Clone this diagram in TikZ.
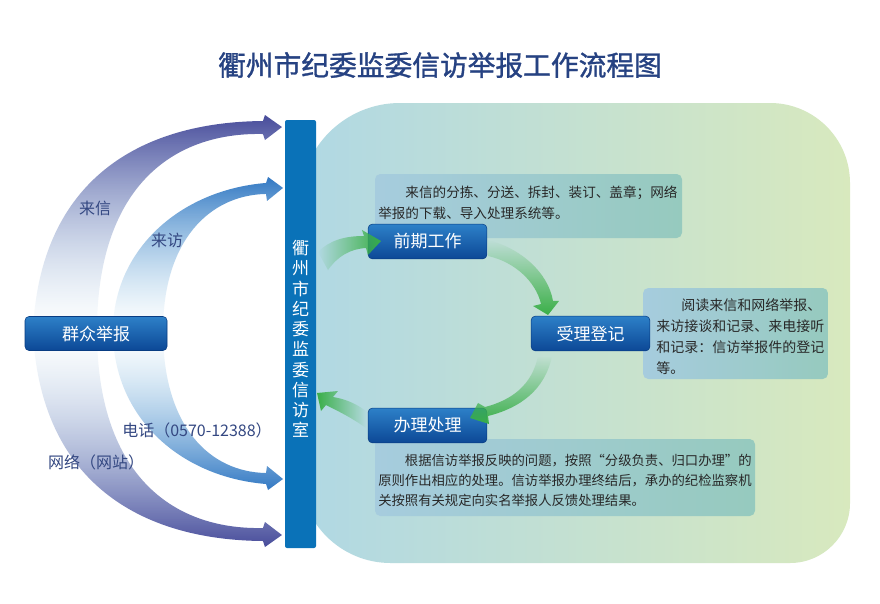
\documentclass[tikz,border=0pt]{standalone}
\usepackage{fontspec}
\setmainfont{Noto Sans CJK SC}
\newfontfamily\titlefont{Noto Sans CJK SC}[FakeBold=1.2]
\usepackage{tikz}
\usetikzlibrary{fadings}

\definecolor{bgleft}{RGB}{176,216,228}
\definecolor{bgright}{RGB}{216,233,190}
\definecolor{noteleft}{RGB}{166,204,222}
\definecolor{noteright}{RGB}{150,202,190}
\definecolor{steptop}{RGB}{45,128,200}
\definecolor{stepbot}{RGB}{12,72,150}
\definecolor{stepedge}{RGB}{8,60,130}
\definecolor{barblue}{RGB}{10,114,184}
\definecolor{titleblue}{RGB}{38,66,130}
\definecolor{labelblue}{RGB}{52,72,130}
\definecolor{outerblue}{RGB}{72,76,155}
\definecolor{outerpale}{RGB}{175,210,232}
\definecolor{innerblue}{RGB}{50,120,195}
\definecolor{innerpale}{RGB}{165,210,235}
\definecolor{cyclegreen}{RGB}{58,175,72}
\definecolor{notetextc}{RGB}{40,40,40}

\begin{document}
\begin{tikzpicture}[x=0.75pt,y=-0.75pt,
    stepbox/.style={draw=stepedge, rounded corners=3pt, top color=steptop, bottom color=stepbot,
      text=white, font=\fontsize{12.75}{15}\selectfont, minimum width=89pt, minimum height=26pt, inner sep=0pt},
    notebg/.style={left color=noteleft, right color=noteright, rounded corners=4pt},
    notetext/.style={anchor=west, align=left, inner sep=0pt, text=notetextc},
    sidelabel/.style={text=labelblue, font=\fontsize{12}{14}\selectfont, inner sep=0pt},
    cyclearrow/.style={fill=cyclegreen}]
  \useasboundingbox (0,0) rectangle (880,603);
  \fill[white] (0,0) rectangle (880,603);

  % background panel
  \shade[left color=bgleft, right color=bgright]
    (575,103) [rounded corners=60pt] -- (850,103) -- (850,333)
    [rounded corners=45pt] -- (850,563) -- (575,563)
    [rounded corners=68pt] -- (300,563) -- (300,333)
    [rounded corners=75pt] -- (300,103) -- cycle;

  \node[text=titleblue, font=\titlefont\fontsize{20.8}{24}\selectfont] (title) at (440,65) {衢州市纪委监委信访举报工作流程图};

  % notes
  \shade[notebg] (375,174) rectangle (682,238);
  \node[notetext, font=\fontsize{10.2}{15.75}\selectfont] (note1) at (378,203)
    {\hspace*{2em}来信的分拣、分送、拆封、装订、盖章；网络\\举报的下载、导入处理系统等。};
  \shade[notebg] (643,288) rectangle (828,379);
  \node[notetext, font=\fontsize{10.5}{15.75}\selectfont] (note2) at (656,337)
    {\hspace*{1.8em}阅读来信和网络举报、\\来访接谈和记录、来电接听\\和记录：信访举报件的登记\\等。};
  \shade[notebg] (375,439) rectangle (755,516);
  \node[notetext, font=\fontsize{10}{15}\selectfont] (note3) at (378,480)
    {\hspace*{2em}根据信访举报反映的问题，按照“分级负责、归口办理”的\\原则作出相应的处理。信访举报办理终结后，承办的纪检监察机\\关按照有关规定向实名举报人反馈处理结果。};

  % steps
  \node[stepbox] (prep) at (427.5,241.5) {前期工作};
  \node[stepbox] (accept) at (590.5,333.5) {受理登记};
  \node[stepbox] (handle) at (427.5,425.5) {办理处理};

  % cycle arrows
  \fill[cyclearrow, path fading=west] (318,252) .. controls (330,240) and (345,236) .. (364,236)
    -- (362,230) -- (381,241) -- (368,255) -- (366,248) .. controls (350,249) and (338,256) .. (328,270) -- cycle;
  \fill[cyclearrow, path fading=north] (488,240) .. controls (520,248) and (548,272) .. (553,301)
    -- (559,301) -- (548,315) -- (533,306) -- (541,304) .. controls (536,282) and (515,262) .. (488,256) -- cycle;
  \fill[cyclearrow, path fading=north] (552,356) .. controls (545,390) and (520,408) .. (488,416)
    -- (489,424) -- (470,418) -- (478,403) -- (485,407) .. controls (512,400) and (532,385) .. (538,356) -- cycle;
  \fill[cyclearrow, path fading=east] (366,411) .. controls (355,403) and (345,399) .. (333,397)
    -- (338,391) -- (317,393) -- (321,411) -- (326,405) .. controls (340,412) and (352,418) .. (366,428) -- cycle;

  % office bar
  \node[fill=barblue, rounded corners=1.5pt, minimum width=23.25pt, minimum height=321pt, inner sep=0pt] (office) at (300.5,334) {};
  \node[text=white, align=center, font=\fontsize{12.75}{15.2}\selectfont, inner sep=0pt] (officename) at (300.5,339)
    {衢\\州\\市\\纪\\委\\监\\委\\信\\访\\室};

  % channels
  \shade[top color=outerblue, bottom color=outerpale, path fading=south]
    (33,331) .. controls (40,180) and (140,122) .. (263,121) -- (265,115) -- (282,127)
    -- (265,140) -- (263,134) .. controls (170,132) and (97,190) .. (97,331) -- cycle;
  \shade[top color=innerblue, bottom color=innerpale, path fading=south]
    (113,331) .. controls (113,250) and (180,190) .. (266,183) -- (268,177) -- (283,188)
    -- (267,201) -- (266,194) .. controls (210,195) and (163,240) .. (163,331) -- cycle;
  \shade[top color=innerpale, bottom color=innerblue, path fading=north]
    (113,331) .. controls (113,417) and (180,477) .. (266,484) -- (268,490) -- (283,479)
    -- (267,466) -- (266,473) .. controls (210,472) and (163,427) .. (163,331) -- cycle;
  \shade[top color=outerpale, bottom color=outerblue, path fading=north]
    (33,331) .. controls (40,482) and (140,540) .. (263,541) -- (265,547) -- (282,535)
    -- (265,522) -- (263,528) .. controls (170,530) and (97,472) .. (97,331) -- cycle;

  \node[stepbox, minimum width=106.5pt, minimum height=25.5pt] (public) at (96,333.5) {群众举报};

  \node[sidelabel] (letter) at (95,208) {来信};
  \node[sidelabel] (visit) at (167,240) {来访};
  \node[sidelabel] (phone) at (197,430) {电话（0570-12388）};
  \node[sidelabel] (web) at (96,462) {网络（网站）};
\end{tikzpicture}
\end{document}
